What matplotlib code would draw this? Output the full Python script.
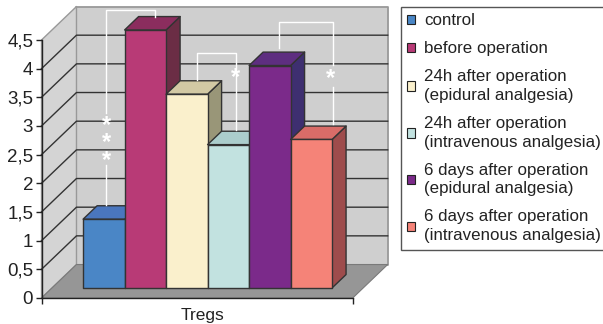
#PURPOSE: 3D looking bar chart of Tregs by group, drawn with plain matplotlib
import matplotlib
matplotlib.use('Agg')
import matplotlib.pyplot as plt
from matplotlib.lines import Line2D
from matplotlib.patches import Patch

plt.rcParams['font.family'] = ['Liberation Sans', 'DejaVu Sans']

#data
groups = ['control', 'before operation', '24h after operation\n(epidural analgesia)',
          '24h after operation\n(intravenous analgesia)', '6 days after operation\n(epidural analgesia)',
          '6 days after operation\n(intravenous analgesia)']
values = [1.2, 4.5, 3.38, 2.5, 3.88, 2.59]
category = ['Tregs']
y_ticks = [0, 0.5, 1, 1.5, 2, 2.5, 3, 3.5, 4, 4.5]
y_labels = ['0', '0,5', '1', '1,5', '2', '2,5', '3', '3,5', '4', '4,5']

#colours of each bar: front, top, side
front_colors = ['#4a86c6', '#b83a76', '#faf0cc', '#c2e2e0', '#7b2a8a', '#f58378']
top_colors = ['#4a76be', '#8b2d5e', '#d2c9a4', '#abcdcc', '#5e2e80', '#d96c68']
side_colors = ['#3f6aa0', '#6b2d45', '#999678', '#8fb0ae', '#3e2f70', '#9e4c4c']

W, H = 603, 324
DX, DY = 0.843, 0.584    #full depth of the chart box in data units
X_MAX = 7.5
Y_MAX = 4.5
GAP = 0.75
BAR_NEAR, BAR_FAR = 0.3, 0.7
EDGE = '#333333'


def proj(x, y, d):
    '''moves a point from the front plane to depth d (0 front, 1 back)'''
    return x + d * DX, y + d * DY


def poly(ax, pts, color, edge='none', lw=0.0, z=1):
    '''fills a polygon given as (x, y, depth) points'''
    xy = [proj(*p) for p in pts]
    ax.fill([p[0] for p in xy], [p[1] for p in xy], facecolor=color, edgecolor=edge,
            linewidth=lw, clip_on=False, zorder=z, joinstyle='round')


def px(x, y):
    '''reference pixel to figure fraction, only used for the hand drawn brackets'''
    return x / W, 1 - y / H


def bracket(fig, xs, ys):
    fx = [px(x, 0)[0] for x in xs]
    fy = [px(0, y)[1] for y in ys]
    fig.add_artist(Line2D(fx, fy, color='white', lw=1.0, transform=fig.transFigure, zorder=5))


def star(fig, x, y, label='*', spacing=1.0):
    fx, fy = px(x, y)
    fig.text(fx, fy, label, color='white', fontsize=17, fontweight='bold', ha='center', va='center',
             linespacing=spacing, zorder=5)


fig = plt.figure(figsize=(W / 100, H / 100), dpi=100)
left, top = px(41.5, 40)
right, bottom = px(352.7, 298)
ax = fig.add_axes([left, bottom, right - left, top - bottom])
ax.set_xlim(0, X_MAX)
ax.set_ylim(0, Y_MAX)
ax.patch.set_visible(False)

#walls and floor
poly(ax, [(0, 0, 1), (X_MAX, 0, 1), (X_MAX, Y_MAX, 1), (0, Y_MAX, 1)], '#cfcfcf', '#999999', 1.3)
poly(ax, [(0, 0, 0), (0, 0, 1), (0, Y_MAX, 1), (0, Y_MAX, 0)], '#d4d4d4', '#999999', 1.0)
poly(ax, [(0, 0, 0), (X_MAX, 0, 0), (X_MAX, 0, 1), (0, 0, 1)], '#969696', '#7a7a7a', 0.8)

#gridlines run along the left wall and then along the back wall
for t in y_ticks[1:-1]:
    xy = [proj(0, t, 0), proj(0, t, 1), proj(X_MAX, t, 1)]
    ax.plot([p[0] for p in xy], [p[1] for p in xy], color='#333333', lw=1.0, zorder=1.5, clip_on=False)

#bars, painted from left to right so each one covers the side of the previous
for i, v in enumerate(values):
    x0, x1 = GAP + i, GAP + i + 1
    z = 2 + i * 0.1
    poly(ax, [(x1, 0, BAR_NEAR), (x1, 0, BAR_FAR), (x1, v, BAR_FAR), (x1, v, BAR_NEAR)], side_colors[i], EDGE, 1.0, z)
    poly(ax, [(x0, v, BAR_NEAR), (x1, v, BAR_NEAR), (x1, v, BAR_FAR), (x0, v, BAR_FAR)], top_colors[i], EDGE, 1.0, z)
    poly(ax, [(x0, 0, BAR_NEAR), (x1, 0, BAR_NEAR), (x1, v, BAR_NEAR), (x0, v, BAR_NEAR)], front_colors[i], EDGE, 1.0, z)

#axes
for s in ['top', 'right']:
    ax.spines[s].set_visible(False)
for s in ['left', 'bottom']:
    ax.spines[s].set_color('#222222')
    ax.spines[s].set_linewidth(1.0)
    ax.spines[s].set_zorder(4)
ax.set_yticks(y_ticks)
ax.set_yticklabels(y_labels, fontsize=13.5, color='#222222')
ax.tick_params(axis='y', length=4, width=1.0, color='#222222', pad=2)
ax.set_xticks([X_MAX / 2 + 0.12])
ax.set_xticklabels(category, fontsize=12.5, color='#222222')
ax.set_xticks([0, X_MAX], minor=True)
ax.tick_params(axis='x', which='major', length=0, pad=7)
ax.tick_params(axis='x', which='minor', length=4, width=1.0, color='#222222')

#significance brackets
bracket(fig, [106, 106], [205, 165])
bracket(fig, [106, 106, 155, 155], [113, 10, 10, 17])
bracket(fig, [197, 197, 235.5, 235.5], [80, 53, 53, 130])
bracket(fig, [278.5, 278.5, 332.5, 332.5], [48, 21.5, 21.5, 65])
bracket(fig, [332.5, 332.5], [87, 124])
star(fig, 106, 143, '*\n*\n*', 0.72)
star(fig, 235.5, 78)
star(fig, 330.5, 79)

#legend
handles = [Patch(facecolor=c, edgecolor='#222222', linewidth=0.8) for c in front_colors]
leg = fig.legend(handles, groups, loc='upper left', bbox_to_anchor=px(400.5, 7), bbox_transform=fig.transFigure,
                 fontsize=12.2, fancybox=False, framealpha=1, edgecolor='#555555', borderaxespad=0,
                 handlelength=0.48, handleheight=0.48, handletextpad=0.54, labelspacing=0.76,
                 borderpad=0.38, labelcolor='#222222')
leg.get_frame().set_linewidth(1.0)
for t in leg.get_texts():
    t.set_linespacing(1.32)

fig.savefig('out.png', dpi=100)
